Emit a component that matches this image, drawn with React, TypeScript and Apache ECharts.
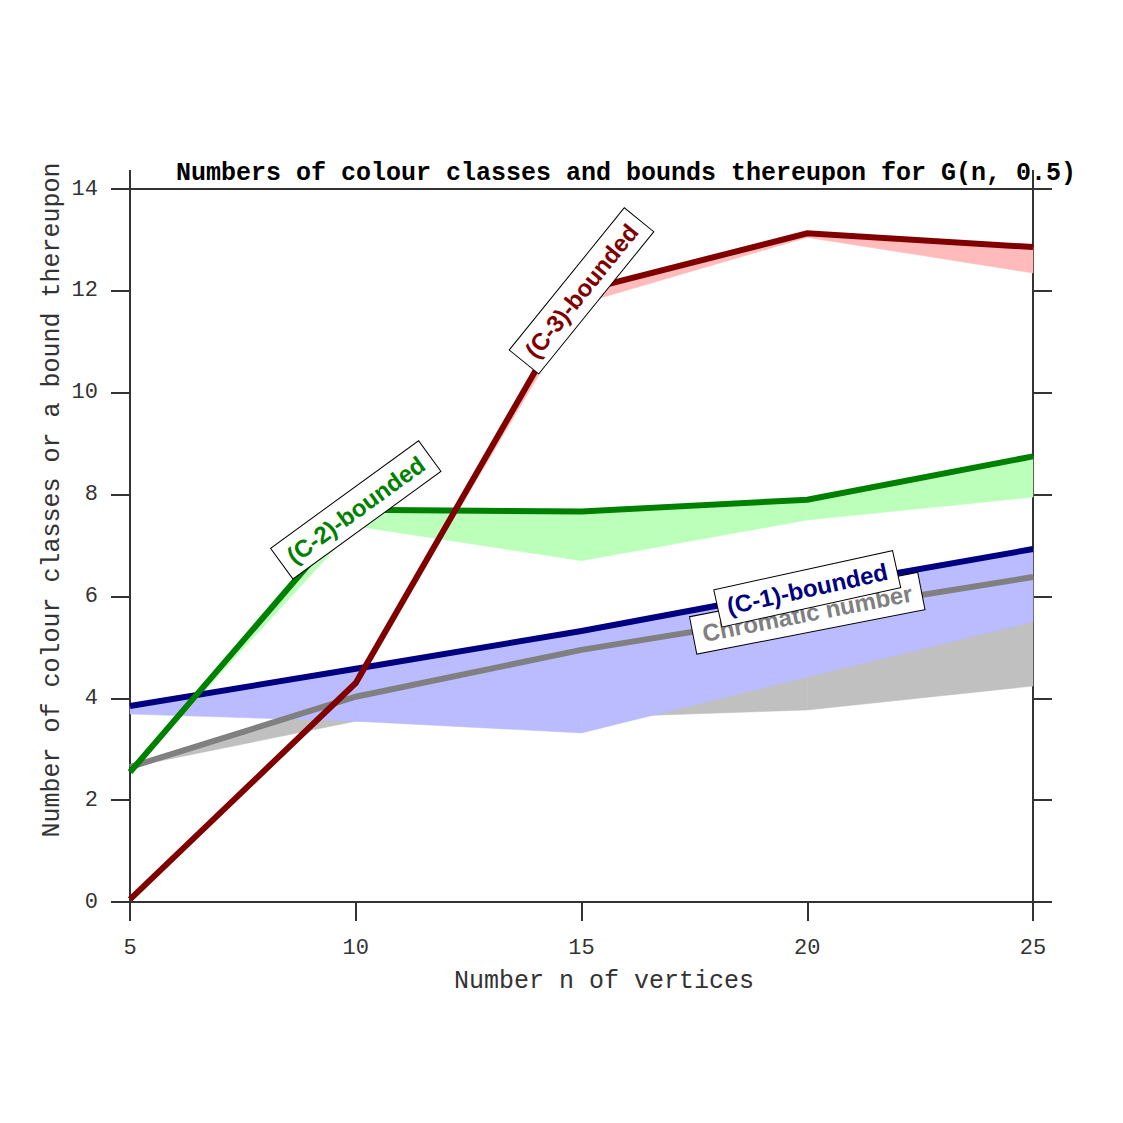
import React, { useEffect, useRef } from "react";
import * as echarts from "echarts";

const nValues = [5, 10, 15, 20, 25];
const c3Bound = [0.05, 4.3, 12.0, 13.13, 12.86];
const c3Lower = [0.05, 4.3, 11.75, 13.05, 12.35];
const c2Bound = [2.55, 7.7, 7.67, 7.9, 8.75];
const c2Lower = [2.55, 7.38, 6.7, 7.5, 7.95];
const c1Bound = [3.85, 4.58, 5.32, 6.15, 6.93];
const c1Lower = [3.69, 3.55, 3.32, 4.42, 5.5];
const chromatic = [2.65, 4.03, 4.95, 5.67, 6.38];
const chromaticLower = [2.65, 3.55, 3.62, 3.77, 4.24];

const titleText = "Numbers of colour classes and bounds thereupon for G(n, 0.5)";
const xName = "Number n of vertices";
const yName = "Number of colour classes or a bound thereupon";

const MONO = "'Liberation Mono', 'DejaVu Sans Mono', monospace";
const SANS = "'Liberation Sans', Arial, sans-serif";
const AXIS = "#333333";

const pairs = (ys: number[]) => nValues.map((x, i) => [x, ys[i]]);

function band(name: string, upper: number[], lower: number[], color: string) {
  const segs = nValues.slice(0, -1).map((x, i) => [
    x,
    lower[i],
    upper[i],
    nValues[i + 1],
    lower[i + 1],
    upper[i + 1],
  ]);
  return {
    type: "custom",
    name,
    silent: true,
    data: segs,
    encode: { x: [0, 3], y: [1, 2, 4, 5] },
    renderItem: (_p: any, api: any) => {
      const a = api.coord([api.value(0), api.value(1)]);
      const b = api.coord([api.value(0), api.value(2)]);
      const c = api.coord([api.value(3), api.value(5)]);
      const d = api.coord([api.value(3), api.value(4)]);
      return {
        type: "polygon",
        shape: { points: [a, b, c, d] },
        style: { fill: color, stroke: color, lineWidth: 0.5 },
      };
    },
  };
}

function line(name: string, ys: number[], color: string) {
  return {
    type: "line",
    name,
    data: pairs(ys),
    symbol: "none",
    silent: true,
    lineStyle: { width: 6, color, cap: "butt", join: "miter" },
  };
}

function tag(text: string, x: number, y: number, rotateDeg: number, color: string) {
  return {
    type: "custom",
    name: text + "-tag",
    silent: true,
    z: 10,
    data: [[x, y]],
    renderItem: (_p: any, api: any) => {
      const p = api.coord([api.value(0), api.value(1)]);
      return {
        type: "text",
        x: p[0],
        y: p[1],
        rotation: (rotateDeg * Math.PI) / 180,
        style: {
          text,
          fill: color,
          font: `bold 24px ${SANS}`,
          align: "center",
          verticalAlign: "middle",
          backgroundColor: "#ffffff",
          borderColor: "#000000",
          borderWidth: 1,
          padding: [7, 9, 6, 9],
        },
      };
    },
  };
}

export default function App() {
  const ref = useRef<HTMLDivElement>(null);
  useEffect(() => {
    document.body.style.margin = "0";
    if (!ref.current) return;
    const chart = echarts.init(ref.current, undefined, { renderer: "svg" });
    const axisLine = { show: true, onZero: false, lineStyle: { color: AXIS, width: 2 } };
    const tick = { show: true, inside: false, length: 19, lineStyle: { color: AXIS, width: 2 } };
    chart.setOption({
      animation: false,
      backgroundColor: "#ffffff",
      grid: { left: 130, right: 90, top: 189, bottom: 221, containLabel: false },
      xAxis: [
        {
          type: "value",
          position: "bottom",
          min: 5,
          max: 25,
          interval: 5,
          axisLine,
          axisTick: tick,
          splitLine: { show: false },
          axisLabel: { fontFamily: MONO, fontSize: 22, color: AXIS, margin: 35 },
        },
        {
          type: "value",
          position: "top",
          min: 5,
          max: 25,
          interval: 5,
          axisLine,
          axisTick: { ...tick, customValues: [5, 25] },
          splitLine: { show: false },
          axisLabel: { show: false },
        },
      ],
      yAxis: [
        {
          type: "value",
          position: "left",
          min: 0,
          max: 14,
          interval: 2,
          axisLine,
          axisTick: tick,
          splitLine: { show: false },
          axisLabel: { fontFamily: MONO, fontSize: 22, color: AXIS, margin: 32 },
        },
        {
          type: "value",
          position: "right",
          min: 0,
          max: 14,
          interval: 2,
          axisLine,
          axisTick: tick,
          splitLine: { show: false },
          axisLabel: { show: false },
        },
      ],
      series: [
        band("gray-band", chromatic, chromaticLower, "#c0c0c0"),
        band("blue-band", c1Bound, c1Lower, "#bbbbff"),
        band("green-band", c2Bound, c2Lower, "#bbffbb"),
        band("red-band", c3Bound, c3Lower, "#ffbbbb"),
        line("Chromatic number", chromatic, "#808080"),
        line("(C-1)-bounded", c1Bound, "#000080"),
        line("(C-2)-bounded", c2Bound, "#008000"),
        line("(C-3)-bounded", c3Bound, "#800000"),
        tag("(C-3)-bounded", nValues[2], c3Bound[2], 51, "#800000"),
        tag("(C-2)-bounded", nValues[1], c2Bound[1], 36, "#008000"),
        tag("Chromatic number", nValues[3], chromatic[3], 11, "#808080"),
        tag("(C-1)-bounded", nValues[3], c1Bound[3], 12.4, "#000080"),
      ],
      graphic: [
        {
          type: "text",
          x: 626,
          y: 173,
          style: {
            text: titleText,
            fill: "#000000",
            font: `bold 25px ${MONO}`,
            align: "center",
            verticalAlign: "middle",
          },
        },
        {
          type: "text",
          x: 604,
          y: 981,
          style: {
            text: xName,
            fill: AXIS,
            font: `25px ${MONO}`,
            align: "center",
            verticalAlign: "middle",
          },
        },
        {
          type: "text",
          x: 52,
          y: 500,
          rotation: Math.PI / 2,
          style: {
            text: yName,
            fill: AXIS,
            font: `25px ${MONO}`,
            align: "center",
            verticalAlign: "middle",
          },
        },
      ],
    });
    return () => chart.dispose();
  }, []);
  return <div ref={ref} style={{ width: 1123, height: 1123 }} />;
}
